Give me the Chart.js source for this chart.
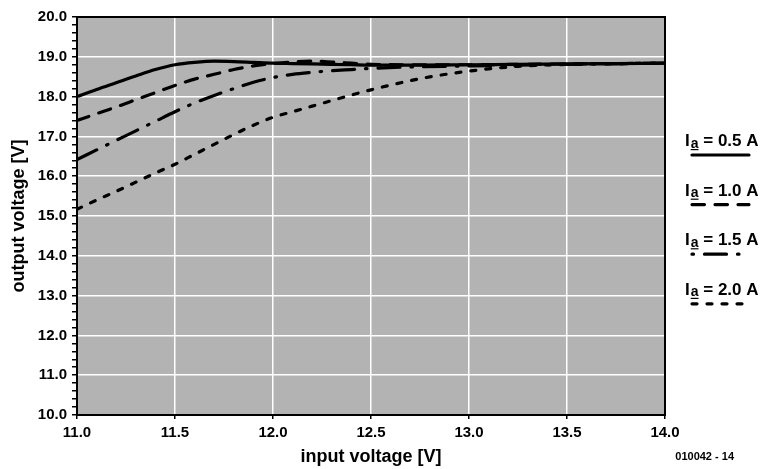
<!DOCTYPE html>
<html>
<head>
<meta charset="utf-8">
<script src="https://cdn.jsdelivr.net/npm/chart.js@4.4.1/dist/chart.umd.min.js"></script>
<style>
  html, body { margin: 0; padding: 0; background: #fff; }
  #wrap { width: 775px; height: 469px; }
</style>
</head>
<body>
<div id="wrap"><canvas id="chart" width="775" height="469"></canvas></div>
<script>
// ── Data ────────────────────────────────────────────────────────────────────
const INPUT_V = [11.0, 11.1, 11.2, 11.3, 11.4, 11.5, 11.6, 11.7, 11.8, 11.9,
                 12.0, 12.1, 12.2, 12.3, 12.4, 12.5, 12.75, 13.0, 13.25, 13.5, 14.0];

const OUT_05A = [18.00, 18.18, 18.35, 18.52, 18.68, 18.80, 18.86, 18.89, 18.88, 18.86,
                 18.84, 18.83, 18.82, 18.81, 18.80, 18.79, 18.79, 18.80, 18.81, 18.82, 18.84];
const OUT_10A = [17.40, 17.57, 17.74, 17.92, 18.10, 18.28, 18.44, 18.56, 18.68, 18.77,
                 18.83, 18.87, 18.89, 18.87, 18.84, 18.81, 18.80, 18.80, 18.81, 18.82, 18.84];
const OUT_15A = [16.42, 16.66, 16.90, 17.14, 17.38, 17.62, 17.84, 18.03, 18.20, 18.36,
                 18.48, 18.56, 18.61, 18.65, 18.68, 18.71, 18.75, 18.77, 18.79, 18.81, 18.84];
const OUT_20A = [15.17, 15.40, 15.62, 15.85, 16.08, 16.30, 16.55, 16.80, 17.05, 17.28,
                 17.48, 17.62, 17.76, 17.90, 18.04, 18.17, 18.45, 18.64, 18.76, 18.81, 18.84];

const CURRENTS = ['0.5 A', '1.0 A', '1.5 A', '2.0 A'];

// ── Styling ─────────────────────────────────────────────────────────────────
const FONT   = '"Liberation Sans", Arial, Helvetica, sans-serif';
const PLOT_BG = '#b3b3b3';
const DASHES = [[], [12.5, 10.5], [22, 11, 1.5, 11], [5, 10]];
const LEGEND_DASH_OFFSET = [0, 0, 33, 0];

function isMajor(v) {
  return Math.abs(v - Math.round(v)) < 1e-6;
}

function series(values, i) {
  return {
    label: CURRENTS[i],
    data: INPUT_V.map((x, k) => ({ x, y: values[k] })),
    borderColor: '#000',
    borderWidth: 3.2,
    borderDash: DASHES[i],
    borderCapStyle: 'round',
    borderJoinStyle: 'round',
    cubicInterpolationMode: 'monotone',
    pointRadius: 0,
    fill: false,
  };
}

// grey plot area + frame
const plotFrame = {
  id: 'plotFrame',
  beforeDraw(chart) {
    const { ctx, chartArea: a } = chart;
    ctx.save();
    ctx.fillStyle = PLOT_BG;
    ctx.fillRect(a.left, a.top, a.right - a.left, a.bottom - a.top);
    ctx.restore();
  },
  afterDatasetsDraw(chart) {
    const { ctx, chartArea: a } = chart;
    ctx.save();
    ctx.strokeStyle = '#000';
    ctx.lineWidth = 2;
    ctx.strokeRect(a.left, a.top, a.right - a.left, a.bottom - a.top);
    ctx.restore();
  },
};

// legend: "Ia = x A" with a line sample underneath, plus figure code
const sideLegend = {
  id: 'sideLegend',
  afterDraw(chart) {
    const { ctx, chartArea: a } = chart;
    ctx.save();
    ctx.fillStyle = '#000';
    ctx.textBaseline = 'alphabetic';
    chart.data.datasets.forEach((ds, i) => {
      const x0 = a.right + 20;
      const base = a.top + 129 + i * 49.6;
      ctx.font = `bold 17px ${FONT}`;
      ctx.fillText('I', x0, base);
      const wI = ctx.measureText('I').width;
      ctx.font = `bold 14px ${FONT}`;
      ctx.fillText('a', x0 + wI + 1, base + 1.5);
      const wA = ctx.measureText('a').width;
      ctx.fillRect(x0 + wI + 1, base + 3, wA, 1.2);
      ctx.font = `bold 17px ${FONT}`;
      ctx.fillText(' = ' + ds.label, x0 + wI + 1 + wA, base);

      ctx.beginPath();
      ctx.strokeStyle = '#000';
      ctx.lineWidth = 3.2;
      ctx.lineCap = 'round';
      ctx.setLineDash(ds.borderDash);
      ctx.lineDashOffset = LEGEND_DASH_OFFSET[i];
      ctx.moveTo(x0 + 7, base + 9);
      ctx.lineTo(x0 + 64, base + 9);
      ctx.stroke();
    });
    ctx.setLineDash([]);
    ctx.font = `bold 11px ${FONT}`;
    ctx.textAlign = 'right';
    ctx.textBaseline = 'middle';
    ctx.fillText('010042 - 14', a.right + 69, a.bottom + 42);
    ctx.restore();
  },
};

new Chart(document.getElementById('chart'), {
  type: 'line',
  data: {
    datasets: [
      series(OUT_05A, 0),
      series(OUT_10A, 1),
      series(OUT_15A, 2),
      series(OUT_20A, 3),
    ],
  },
  options: {
    responsive: false,
    animation: false,
    devicePixelRatio: 1,
    layout: { padding: { left: 0, top: 17, right: 110, bottom: 0 } },
    plugins: {
      legend: { display: false },
      tooltip: { enabled: false },
    },
    scales: {
      x: {
        type: 'linear',
        min: 11,
        max: 14,
        afterFit: s => { s.height = 54; },
        ticks: {
          stepSize: 0.5,
          color: '#000',
          padding: 5,
          maxRotation: 0,
          font: { family: FONT, size: 15, weight: 'bold' },
          callback: v => v.toFixed(1),
        },
        grid: {
          color: '#fff',
          lineWidth: 1.5,
          tickColor: '#000',
          tickLength: 4,
        },
        border: { display: true, color: '#000', width: 2 },
        title: {
          display: true,
          text: 'input voltage [V]',
          color: '#000',
          font: { family: FONT, size: 18, weight: 'bold' },
          padding: { top: 0, bottom: 1 },
        },
      },
      y: {
        min: 10,
        max: 20,
        afterFit: s => { s.width = 77; },
        ticks: {
          stepSize: 0.2,
          autoSkip: false,
          color: '#000',
          padding: 5,
          font: { family: FONT, size: 15, weight: 'bold' },
          callback: v => (isMajor(v) ? v.toFixed(1) : ''),
        },
        grid: {
          color: c => (isMajor(c.tick.value) ? '#fff' : 'rgba(0,0,0,0)'),
          lineWidth: 1.5,
          tickColor: '#000',
          tickLength: 5,
        },
        border: { display: true, color: '#000', width: 2 },
        title: {
          display: true,
          text: 'output voltage [V]',
          color: '#000',
          font: { family: FONT, size: 18, weight: 'bold' },
          padding: { top: 8, bottom: 0 },
        },
      },
    },
  },
  plugins: [plotFrame, sideLegend],
});
</script>
</body>
</html>
